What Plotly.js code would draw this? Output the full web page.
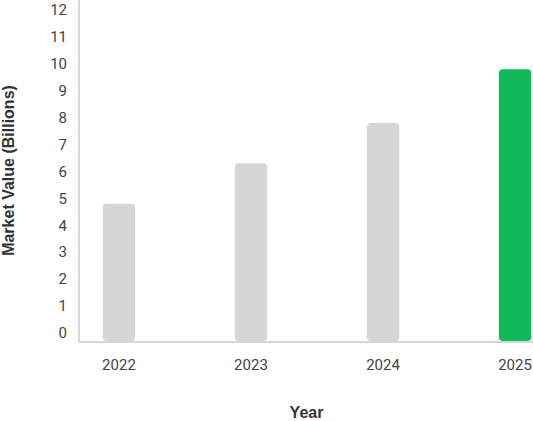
<!DOCTYPE html>
<html>
<head>
<meta charset="utf-8">
<script src="https://cdn.plot.ly/plotly-3.0.1.min.js"></script>
<style>html,body{margin:0;padding:0;background:#fff;}#chart{width:533px;height:421px;}</style>
</head>
<body>
<div id="chart"></div>
<script>
const years = ["2022", "2023", "2024", "2025"];
const marketValues = [4.8, 6.3, 7.8, 9.8];
const barColors = ["#d6d6d6", "#d6d6d6", "#d6d6d6", "#12b95a"];
const yTickValues = [0,1,2,3,4,5,6,7,8,9,10,11,12];

const yMin = -0.3;
const trace = {
  type: "bar",
  x: years,
  y: marketValues.map(v => v - yMin),
  base: yMin,
  marker: {color: barColors, line: {width: 0}, cornerradius: 4},
  width: 0.245,
  hoverinfo: "skip"
};

const layout = {
  width: 533, height: 421,
  margin: {l: 80, r: 0, t: 0, b: 80},
  paper_bgcolor: "#fff", plot_bgcolor: "#fff",
  showlegend: false,
  font: {family: "Roboto, sans-serif", size: 15, color: "#444"},
  xaxis: {
    type: "category",
    range: [-0.295, 3.136],
    showline: true, linecolor: "#d6d6d6", linewidth: 2,
    showgrid: false, zeroline: false, ticks: "",
    ticklabelstandoff: 9,
    tickfont: {family: "Roboto, sans-serif", size: 15, color: "#444"},
    title: {text: "Year", standoff: 34, font: {family: "Liberation Sans, Arial, sans-serif", size: 16, color: "#333", weight: "bold"}}
  },
  yaxis: {
    range: [yMin, 12.37],
    tickvals: yTickValues,
    showline: true, linecolor: "#d6d6d6", linewidth: 2,
    showgrid: false, zeroline: false, ticks: "",
    ticklabelstandoff: 8,
    tickfont: {family: "Roboto, sans-serif", size: 15, color: "#444"},
    title: {text: "Market Value (Billions)", standoff: 37, font: {family: "Liberation Sans, Arial, sans-serif", size: 16, color: "#333", weight: "bold"}}
  }
};

Plotly.newPlot("chart", [trace], layout, {displayModeBar: false, staticPlot: true});
</script>
</body>
</html>
